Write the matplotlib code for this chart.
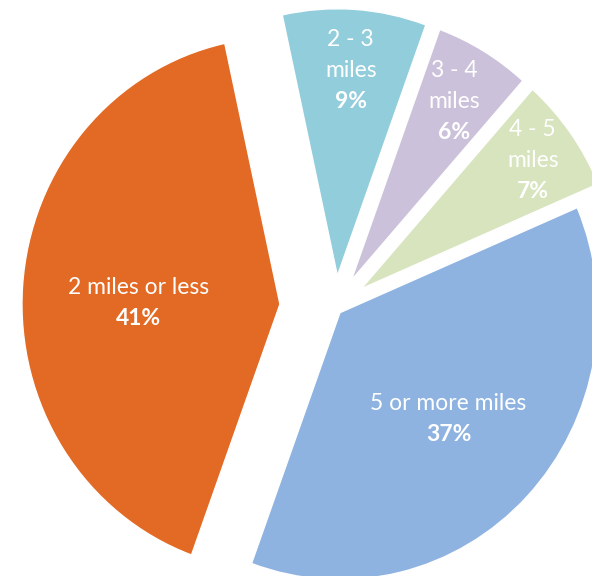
import numpy as np
import matplotlib
matplotlib.use("Agg")
from matplotlib import pyplot as plt

# data, clockwise from the top
categories = ["2 - 3\nmiles", "3 - 4\nmiles", "4 - 5\nmiles", "5 or more miles", "2 miles or less"]
shares = [9, 6, 7, 37, 41]
pct_labels = ["9%", "6%", "7%", "37%", "41%"]

colors = ["#92CDDC", "#CCC1DA", "#D7E4BD", "#8EB3E0", "#E36A24"]
explode = [0.121, 0.121, 0.123, 0.025, 0.215]   # fraction of radius
label_r = [0.77, 0.78, 0.82, 0.58, 0.55]        # radial position of the text, fraction of radius
label_dy = [0, 0, 0, 0, -8]                     # small vertical nudge

R = 258
SY = 1.035   # the original picture is slightly stretched vertically

fig = plt.figure(figsize=(5.92, 5.76), dpi=100)
ax = fig.add_axes([0, 0, 1, 1])

# pie's explode is in data units, so scale it by the radius
wedges, _ = ax.pie(shares, colors=colors, explode=[e * R for e in explode],
                   startangle=102.35, counterclock=False, radius=R, center=(335.3, 258.9),
                   wedgeprops=dict(edgecolor="white", linewidth=1))

step = 31 / SY
for w, cat, pct, r, dy in zip(wedges, categories, pct_labels, label_r, label_dy):
    ang = np.deg2rad((w.theta1 + w.theta2) / 2)
    cx, cy = w.center
    x = cx + r * R * np.cos(ang)
    y = cy + r * R * np.sin(ang) + dy
    lines = cat.split("\n")
    n = len(lines) + 1
    top = y + step * (n - 1) / 2
    for i, line in enumerate(lines):
        ax.text(x, top - step * i, line, ha="center", va="center",
                color="white", fontsize=16.5, family="Lato")
    ax.text(x, top - step * (n - 1), pct, ha="center", va="center",
            color="white", fontsize=16.5, fontweight="bold", family="Lato")

ax.set_aspect("auto")
ax.set_xlim(0, 592)
ax.set_ylim(0, 576 / SY)
ax.axis("off")
fig.savefig("out.png", dpi=100)
